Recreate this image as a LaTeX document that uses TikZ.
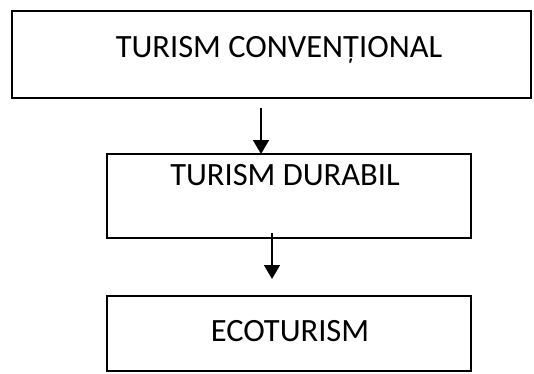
\documentclass[tikz,border=0pt]{standalone}
\usepackage{fontspec}
\setmainfont{Carlito}
\usepackage{tikz}
\usetikzlibrary{arrows.meta}
\definecolor{ink}{HTML}{000000}
\tikzset{
  box/.style={draw=ink, line width=2pt, rectangle, inner sep=0pt, outer sep=0pt},
  lab/.style={text=ink, font=\fontsize{32.5}{38}\selectfont, anchor=base, inner sep=0pt},
  arr/.style={draw=ink, line width=1.6pt, -{Triangle[length=14pt, width=16pt]}},
}
\begin{document}
\begin{tikzpicture}[x=1pt, y=-1pt]
  \useasboundingbox (0,0) rectangle (534,373);
  % boxes
  \node[box, minimum width=519pt, minimum height=87pt] (conv) at (271.5,54.5) {};
  \node[box, minimum width=364pt, minimum height=84pt] (dur) at (289,196) {};
  \node[box, minimum width=364pt, minimum height=75pt] (eco) at (289,333.5) {};
  % texts
  \node[lab] (tconv) at (279,57) {TURISM CONVENȚIONAL};
  \node[lab] (tdur) at (285,185) {TURISM DURABIL};
  \node[lab] (teco) at (290,341) {ECOTURISM};
  % arrows
  \coordinate (a1) at (261,108);
  \coordinate (a2) at (272,233);
  \coordinate (b2) at (272,279);
  \draw[arr] (a1) -- (a1 |- dur.north);
  \draw[arr] (a2) -- (b2);
\end{tikzpicture}
\end{document}
